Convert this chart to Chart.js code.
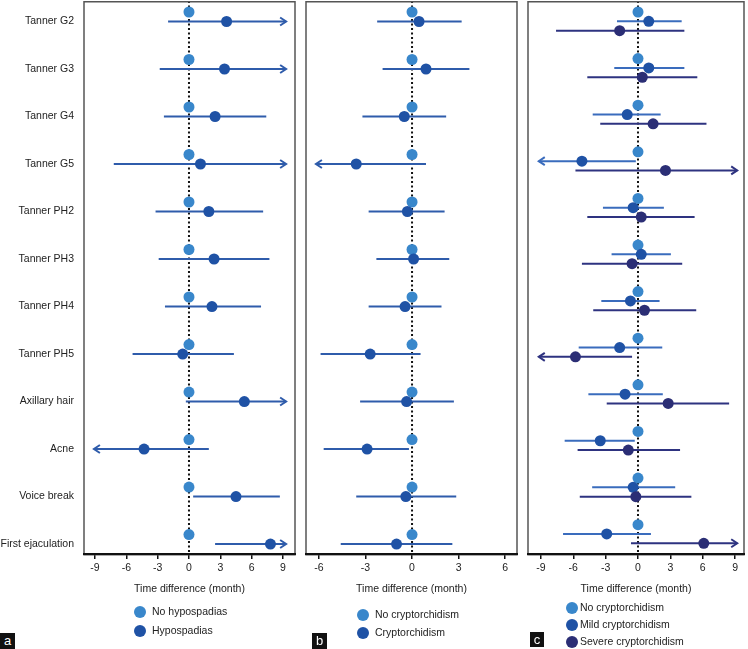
<!DOCTYPE html>
<html>
<head>
<meta charset="utf-8">
<script src="https://cdn.jsdelivr.net/npm/chart.js@4.4.1/dist/chart.umd.min.js"></script>
<style>
  body { margin: 0; background: #fff; }
  #wrap { position: relative; width: 748px; height: 649px; overflow: hidden; }
  canvas { position: absolute; top: 0; }
  .tag { position: absolute; background: #111; color: #fff; font: 13px "Liberation Sans", Arial, sans-serif;
         text-align: center; line-height: 16px; width: 15px; height: 16px; }
</style>
</head>
<body>
<div id="wrap">
  <canvas id="chartA" width="300" height="649" style="left:0"></canvas>
  <canvas id="chartB" width="230" height="649" style="left:300px"></canvas>
  <canvas id="chartC" width="228" height="649" style="left:520px"></canvas>
  <div class="tag" style="left:0;top:633px">a</div>
  <div class="tag" style="left:312px;top:633px">b</div>
  <div class="tag" style="left:530px;top:632px;width:14px;height:15px;line-height:15px">c</div>
</div>
<script>
const categories = ['Tanner G2', 'Tanner G3', 'Tanner G4', 'Tanner G5', 'Tanner PH2', 'Tanner PH3',
  'Tanner PH4', 'Tanner PH5', 'Axillary hair', 'Acne', 'Voice break', 'First ejaculation']

const reference = [0, 0, 0, 0, 0, 0, 0, 0, 0, 0, 0, 0]

// panel a - hypospadias
const hypoMean  = [3.6, 3.4, 2.5, 1.1, 1.9, 2.4, 2.2, -0.6, 5.3, -4.3, 4.5, 7.8]
const hypoLow   = [-2.0, -2.8, -2.4, -7.2, -3.2, -2.9, -2.3, -5.4, -0.3, -9.1, 0.4, 2.5]
const hypoHigh  = [9.3, 9.3, 7.4, 9.3, 7.1, 7.7, 6.9, 4.3, 9.3, 1.9, 8.7, 9.3]
const hypoArrow = ['r', 'r', '', 'r', '', '', '', '', 'r', 'l', '', 'r']

// panel b - cryptorchidism
const cryptMean  = [0.45, 0.9, -0.5, -3.6, -0.3, 0.1, -0.45, -2.7, -0.35, -2.9, -0.4, -1.0]
const cryptLow   = [-2.25, -1.9, -3.2, -6.2, -2.8, -2.3, -2.8, -5.9, -3.35, -5.7, -3.6, -4.6]
const cryptHigh  = [3.2, 3.7, 2.2, 0.9, 2.1, 2.4, 1.9, 0.55, 2.7, -0.2, 2.85, 2.6]
const cryptArrow = ['', '', '', 'l', '', '', '', '', '', '', '', '']

// panel c - mild / severe cryptorchidism
const mildMean  = [1.0, 1.0, -1.0, -5.2, -0.45, 0.3, -0.7, -1.7, -1.2, -3.5, -0.45, -2.9]
const mildLow   = [-1.95, -2.2, -4.2, -9.2, -3.25, -2.45, -3.4, -5.5, -4.6, -6.8, -4.25, -6.95]
const mildHigh  = [4.05, 4.3, 2.1, -0.2, 2.4, 3.05, 2.0, 2.25, 2.3, -0.3, 3.45, 1.2]
const mildArrow = ['', '', '', 'l', '', '', '', '', '', '', '', '']

const severeMean  = [-1.7, 0.4, 1.4, 2.55, 0.3, -0.55, 0.6, -5.8, 2.8, -0.9, -0.2, 6.1]
const severeLow   = [-7.6, -4.7, -3.5, -5.8, -4.7, -5.2, -4.15, -9.2, -2.9, -5.6, -5.4, -0.65]
const severeHigh  = [4.3, 5.5, 6.35, 9.2, 5.25, 4.1, 5.4, -0.55, 8.45, 3.9, 4.95, 9.2]
const severeArrow = ['', '', '', 'r', '', '', '', 'l', '', '', '', 'r']

const ticksA = [-9, -6, -3, 0, 3, 6, 9]
const ticksB = [-6, -3, 0, 3, 6]
const ticksC = [-9, -6, -3, 0, 3, 6, 9]

const LIGHT = '#3987cb'
const MID = '#1f52a5'
const NAVY = '#2b2e75'
const FONT = '"Liberation Sans", Arial, sans-serif'
const FS = 10.5

Chart.defaults.font.family = FONT
Chart.defaults.color = '#222'

const forestPlugin = {
  id: 'forest',
  beforeDatasetsDraw(chart) {
    const { ctx, chartArea, scales: { x, y } } = chart
    ctx.save()
    // dotted line at zero
    const x0 = x.getPixelForValue(0)
    ctx.strokeStyle = '#111'
    ctx.lineWidth = 2
    ctx.setLineDash([2, 2.5])
    ctx.beginPath()
    ctx.moveTo(x0, chartArea.top)
    ctx.lineTo(x0, chartArea.bottom)
    ctx.stroke()
    ctx.setLineDash([])

    chart.data.datasets.forEach((ds) => {
      if (!ds.low) return
      ctx.strokeStyle = ds.barColor
      ctx.lineWidth = 2
      ds.data.forEach((pt, i) => {
        const py = y.getPixelForValue(pt.y)
        const xl = x.getPixelForValue(ds.low[i])
        const xh = x.getPixelForValue(ds.high[i])
        ctx.beginPath()
        ctx.moveTo(xl, py)
        ctx.lineTo(xh, py)
        ctx.stroke()
        if (ds.arrow[i]) {
          const tip = ds.arrow[i] === 'r' ? xh : xl
          const d = ds.arrow[i] === 'r' ? -6 : 6
          ctx.beginPath()
          ctx.moveTo(tip + d, py - 4)
          ctx.lineTo(tip, py)
          ctx.lineTo(tip + d, py + 4)
          ctx.stroke()
        }
      })
    })
    ctx.restore()
  },
  afterDraw(chart, args, opts) {
    const { ctx, chartArea } = chart
    ctx.save()
    ctx.strokeStyle = '#555'
    ctx.lineWidth = 1.5
    ctx.strokeRect(chartArea.left, chartArea.top + 0.75, chartArea.right - chartArea.left, chartArea.bottom - chartArea.top)
    ctx.strokeStyle = '#111'
    ctx.lineWidth = 2
    ctx.beginPath()
    ctx.moveTo(chartArea.left - 1, chartArea.bottom)
    ctx.lineTo(chartArea.right + 1, chartArea.bottom)
    ctx.stroke()

    // legend
    ctx.font = FS + 'px ' + FONT
    ctx.textBaseline = 'middle'
    opts.legend.forEach((item) => {
      ctx.fillStyle = item.color
      ctx.beginPath()
      ctx.arc(opts.legendX, item.y, 6, 0, Math.PI * 2)
      ctx.fill()
      ctx.fillStyle = '#222'
      ctx.fillText(item.label, opts.textX, item.y + 0.5)
    })
    ctx.restore()
  }
}

function series(mean, offset, color, radius, extra) {
  return Object.assign({
    data: mean.map((v, i) => ({ x: v, y: i + offset })),
    backgroundColor: color,
    borderWidth: 0,
    pointRadius: radius,
    pointHoverRadius: radius
  }, extra || {})
}

function makeOptions(cfg) {
  return {
    responsive: false,
    animation: false,
    devicePixelRatio: 1,
    layout: { autoPadding: false, padding: { top: 1, bottom: 49, left: cfg.padLeft, right: cfg.padRight } },
    plugins: {
      legend: { display: false },
      tooltip: { enabled: false },
      forest: { legend: cfg.legend, legendX: cfg.legendX, textX: cfg.textX }
    },
    scales: {
      x: {
        type: 'linear',
        min: cfg.xMin,
        max: cfg.xMax,
        afterBuildTicks: (s) => { s.ticks = cfg.xTicks.map(v => ({ value: v })) },
        grid: { display: true, drawOnChartArea: false, drawTicks: true, tickLength: 5, color: '#111', lineWidth: 1.5 },
        border: { display: false },
        ticks: { font: { size: FS }, color: '#222', padding: 3, maxRotation: 0, autoSkip: false },
        title: { display: true, text: 'Time difference (month)', font: { size: FS }, color: '#222', padding: { top: 4, bottom: 5 } },
        afterFit: (s) => { s.height = 46; s.paddingLeft = 0; s.paddingRight = 0 }
      },
      y: {
        type: 'linear',
        reverse: true,
        display: cfg.showLabels,
        min: cfg.yMin,
        max: cfg.yMax,
        afterBuildTicks: (s) => { s.ticks = categories.map((c, i) => ({ value: i + 0.2 })) },
        grid: { display: false, drawTicks: false },
        border: { display: false },
        ticks: { callback: (v, i) => categories[i], font: { size: FS }, color: '#222', padding: 10, autoSkip: false },
        afterFit: (s) => { s.width = cfg.showLabels ? 84 : 0; s.paddingTop = 0; s.paddingBottom = 0 }
      }
    }
  }
}

new Chart(document.getElementById('chartA'), {
  type: 'scatter',
  data: {
    datasets: [
      series(hypoMean, 0.2, MID, 5.5, { low: hypoLow, high: hypoHigh, arrow: hypoArrow, barColor: '#2f5cab' }),
      series(reference, 0, LIGHT, 5.5)
    ]
  },
  options: makeOptions({
    padLeft: 0, padRight: 5, xMin: -10.05, xMax: 10.15, xTicks: ticksA,
    yMin: -0.2316, yMax: 11.41, showLabels: true,
    legendX: 140, textX: 152,
    legend: [{ label: 'No hypospadias', color: LIGHT, y: 612 }, { label: 'Hypospadias', color: MID, y: 631 }]
  }),
  plugins: [forestPlugin]
})

new Chart(document.getElementById('chartB'), {
  type: 'scatter',
  data: {
    datasets: [
      series(cryptMean, 0.2, MID, 5.5, { low: cryptLow, high: cryptHigh, arrow: cryptArrow, barColor: '#2f5cab' }),
      series(reference, 0, LIGHT, 5.5)
    ]
  },
  options: makeOptions({
    padLeft: 6, padRight: 13, xMin: -6.84, xMax: 6.77, xTicks: ticksB,
    yMin: -0.2316, yMax: 11.41, showLabels: false,
    legendX: 63, textX: 75,
    legend: [{ label: 'No cryptorchidism', color: LIGHT, y: 615 }, { label: 'Cryptorchidism', color: MID, y: 633 }]
  }),
  plugins: [forestPlugin]
})

new Chart(document.getElementById('chartC'), {
  type: 'scatter',
  data: {
    datasets: [
      series(severeMean, 0.4, NAVY, 5.5, { low: severeLow, high: severeHigh, arrow: severeArrow, barColor: '#2e3380' }),
      series(mildMean, 0.2, MID, 5.5, { low: mildLow, high: mildHigh, arrow: mildArrow, barColor: '#3a6cbd' }),
      series(reference, 0, LIGHT, 5.5)
    ]
  },
  options: makeOptions({
    padLeft: 8, padRight: 4, xMin: -10.2, xMax: 9.83, xTicks: ticksC,
    yMin: -0.236, yMax: 11.63, showLabels: false,
    legendX: 52, textX: 60,
    legend: [{ label: 'No cryptorchidism', color: LIGHT, y: 608 },
      { label: 'Mild cryptorchidism', color: MID, y: 625 },
      { label: 'Severe cryptorchidism', color: NAVY, y: 642 }]
  }),
  plugins: [forestPlugin]
})
</script>
</body>
</html>
